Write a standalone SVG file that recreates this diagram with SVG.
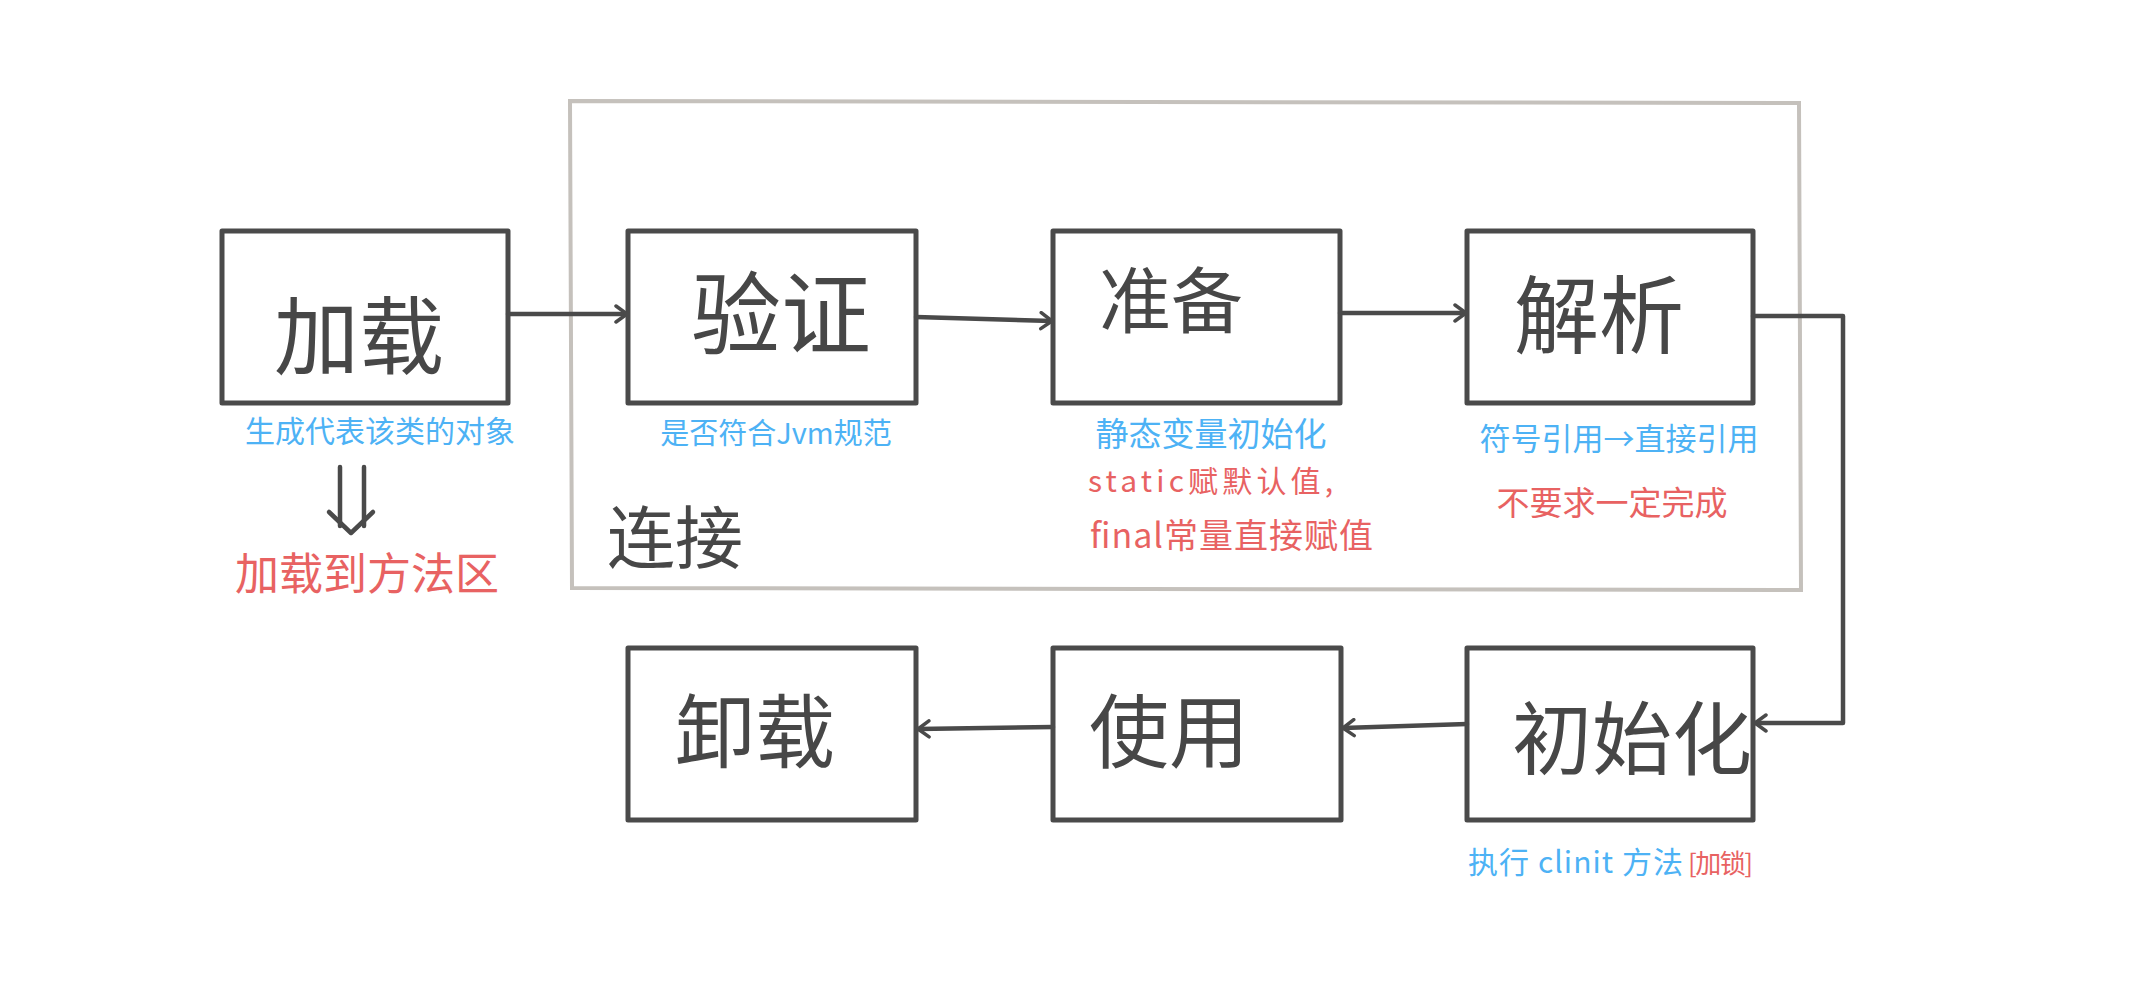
<svg xmlns="http://www.w3.org/2000/svg" width="2134" height="988" viewBox="0 0 2134 988">
<style>
.box{fill:none;stroke:#4a4a4a;stroke-width:5;stroke-linejoin:round}
.main{font-family:"Noto Sans CJK SC","Liberation Sans",sans-serif;fill:#474747;text-anchor:middle}
.blue{font-family:"Noto Sans CJK SC","Liberation Sans",sans-serif;fill:#4db2f5}
.red{font-family:"Noto Sans CJK SC","Liberation Sans",sans-serif;fill:#e86262}
.con{fill:none;stroke:#4a4a4a;stroke-width:4.5;stroke-linecap:round;stroke-linejoin:round}
</style>
<defs>
<marker id="arr" viewBox="0 0 20 20" refX="19" refY="10" markerWidth="20" markerHeight="20" markerUnits="userSpaceOnUse" orient="auto">
<path d="M8,2 L19,10 L8,18" fill="none" stroke="#4a4a4a" stroke-width="3.5" stroke-linecap="round" stroke-linejoin="round"/>
</marker>
</defs>
<rect width="2134" height="988" fill="#ffffff"/>
<g id="linking-frame">
<path d="M570,101 L1799,103 L1801,590 L572,588 Z" fill="none" stroke="#c5c1bc" stroke-width="4"/>
<text class="main" x="675" y="563" font-size="68">连接</text>
</g>
<g id="connectors">
<line class="con" x1="508" y1="314" x2="627" y2="314" marker-end="url(#arr)"/>
<line class="con" x1="916" y1="317" x2="1052" y2="321" marker-end="url(#arr)"/>
<line class="con" x1="1340" y1="313" x2="1466" y2="313" marker-end="url(#arr)"/>
<polyline class="con" points="1753,316 1843,316 1843,723 1755,723" marker-end="url(#arr)"/>
<line class="con" x1="1467" y1="724" x2="1343" y2="728" marker-end="url(#arr)"/>
<line class="con" x1="1053" y1="727" x2="918" y2="729" marker-end="url(#arr)"/>
<g id="double-arrow">
<line class="con" x1="340" y1="467" x2="340" y2="526"/>
<line class="con" x1="364" y1="467" x2="364" y2="526"/>
<polyline class="con" points="329,512 351,533 373,512"/>
</g>
</g>
<g id="node-load">
<rect class="box" x="222" y="231" width="286" height="172"/>
<text class="main" x="359" y="368" font-size="85">加载</text>
<text class="blue" x="380" y="442" font-size="30" text-anchor="middle">生成代表该类的对象</text>
<text class="red" x="367" y="590" font-size="44" text-anchor="middle">加载到方法区</text>
</g>
<g id="node-verify">
<rect class="box" x="628" y="231" width="288" height="172"/>
<text class="main" x="781" y="347" font-size="90">验证</text>
<text class="blue" x="776" y="444" font-size="29" text-anchor="middle">是否符合Jvm规范</text>
</g>
<g id="node-prepare">
<rect class="box" x="1053" y="231" width="287" height="172"/>
<text class="main" x="1171" y="327" font-size="72">准备</text>
<text class="blue" x="1211" y="446" font-size="33" text-anchor="middle">静态变量初始化</text>
<text class="red" x="1088" y="492" font-size="30" textLength="245" lengthAdjust="spacing">static赋默认值,</text>
<text class="red" x="1090" y="548" font-size="34" textLength="283" lengthAdjust="spacing">final常量直接赋值</text>
</g>
<g id="node-resolve">
<rect class="box" x="1467" y="231" width="286" height="172"/>
<text class="main" x="1599" y="347" font-size="85">解析</text>
<text class="blue" x="1619" y="450" font-size="31" text-anchor="middle">符号引用→直接引用</text>
<text class="red" x="1612" y="515" font-size="33" text-anchor="middle">不要求一定完成</text>
</g>
<g id="node-init">
<rect class="box" x="1467" y="648" width="286" height="172"/>
<text class="main" x="1632" y="768" font-size="80">初始化</text>
<text class="blue" x="1468" y="873" font-size="30" textLength="215" lengthAdjust="spacing">执行 clinit 方法</text>
<text class="red" x="1688" y="873" font-size="26" textLength="65" lengthAdjust="spacing">[加锁]</text>
</g>
<g id="node-use">
<rect class="box" x="1053" y="648" width="288" height="172"/>
<text class="main" x="1169" y="761" font-size="80">使用</text>
</g>
<g id="node-unload">
<rect class="box" x="628" y="648" width="288" height="172"/>
<text class="main" x="755" y="761" font-size="80">卸载</text>
</g>
</svg>
